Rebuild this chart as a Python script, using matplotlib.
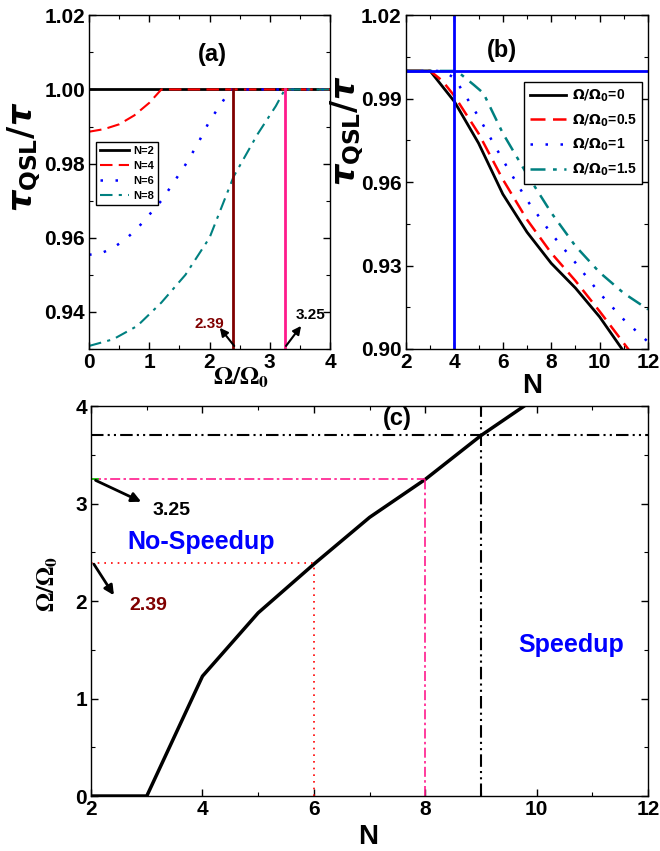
import numpy as np
import matplotlib.pyplot as plt

plt.rcParams['font.family'] = ['Liberation Sans', 'DejaVu Sans']
plt.rcParams['font.weight'] = 'bold'

# (a) tau_QSL/tau vs Omega/Omega0 for several N
n2_x = [0, 4]
n2_y = [1.0, 1.0]
n4_x = [0, 0.25, 0.5, 0.75, 1.0, 1.2, 4]
n4_y = [0.9886, 0.9893, 0.9906, 0.9930, 0.9964, 1.0, 1.0]
n6_x = [0, 0.2, 0.4, 0.6, 0.8, 1.0, 1.2, 1.4, 1.6, 1.8, 2.0, 2.2, 2.35, 4]
n6_y = [0.9554, 0.9558, 0.9573, 0.9595, 0.9625, 0.9662, 0.9700, 0.9748, 0.9797, 0.9852, 0.9915, 0.9963, 1.0, 1.0]
n8_x = [0, 0.4, 0.8, 1.2, 1.6, 2.0, 2.4, 2.8, 3.1, 3.25, 4]
n8_y = [0.9308, 0.9326, 0.9362, 0.9425, 0.9500, 0.9600, 0.9765, 0.9880, 0.9955, 1.0, 1.0]
crit_a = [2.39, 3.25]

# (b) tau_QSL/tau vs N for several Omega/Omega0
N_b = [2, 3, 4, 5, 6, 7, 8, 9, 10, 11, 12]
om0 = [1.0, 1.0, 0.9890, 0.9740, 0.9557, 0.9420, 0.9308, 0.9219, 0.9115, 0.8990, 0.8870]
om05_x = [2, 3, 3.5, 4, 5, 6, 7, 8, 9, 10, 11, 12]
om05 = [1.0, 1.0, 0.9965, 0.9910, 0.9775, 0.9610, 0.9465, 0.9345, 0.9245, 0.9135, 0.9020, 0.8905]
om1_x = [2, 3.5, 4, 5, 6, 7, 8, 9, 10, 11, 12]
om1 = [1.0, 1.0, 0.9975, 0.9835, 0.9680, 0.9535, 0.9415, 0.9310, 0.9200, 0.9105, 0.9025]
om15_x = [2, 4.1, 4.8, 5.2, 6, 7, 8, 9, 10, 11, 12]
om15 = [1.0, 1.0, 0.9950, 0.9920, 0.9776, 0.9628, 0.9490, 0.9370, 0.9275, 0.9200, 0.9142]

# (c) critical Omega/Omega0 vs N
N_c = [2, 3, 4, 5, 6, 7, 8, 9, 10]
om_c = [0, 0, 1.23, 1.88, 2.38, 2.86, 3.25, 3.70, 4.09]

fig = plt.figure(figsize=(6.6, 8.51), dpi=100)
axa = fig.add_axes([0.135, 0.590, 0.365, 0.392])
axb = fig.add_axes([0.615, 0.590, 0.367, 0.392])
axc = fig.add_axes([0.138, 0.0646, 0.844, 0.458])

teal = '#008080'
pink = '#FF1A8C'
dred = '#800000'
arrow = dict(arrowstyle='-|>', color='black', lw=1.5, mutation_scale=12, shrinkA=0, shrinkB=0)
arrow_c = dict(arrowstyle='-|>', color='black', lw=2, mutation_scale=14, shrinkA=0, shrinkB=0)

# ---- panel (a)
axa.plot(n2_x, n2_y, color='black', lw=2, label='N=2')
axa.plot(n4_x, n4_y, color='red', lw=1.5, ls=(0, (6, 3)), label='N=4')
axa.plot(n6_x, n6_y, color='blue', lw=1.8, ls=(0, (1, 5)), label='N=6')
axa.plot(n8_x, n8_y, color=teal, lw=1.5, ls=(0, (6, 3, 1.5, 3)), label='N=8')
axa.plot([crit_a[0], crit_a[0]], [0.90, 1.0], color=dred, lw=2)
axa.plot([crit_a[1], crit_a[1]], [0.90, 1.0], color=pink, lw=2)
axa.set_xlim(0, 4)
axa.set_ylim(0.9307, 1.02)
axa.set_xticks([0, 1, 2, 3, 4])
axa.set_xticks(np.arange(0, 4.01, 0.5), minor=True)
axa.set_yticks([0.94, 0.96, 0.98, 1.00, 1.02])
axa.set_yticks(np.arange(0.93, 1.021, 0.01), minor=True)
axa.set_yticklabels(['0.94', '0.96', '0.98', '1.00', '1.02'])
axa.annotate('', xy=(2.17, 0.9357), xytext=(crit_a[0] + 0.02, 0.9308), arrowprops=arrow)
axa.text(2.0, 0.9368, '2.39', color=dred, fontsize=11, ha='center', va='center')
axa.annotate('', xy=(3.52, 0.9362), xytext=(crit_a[1] + 0.02, 0.9308), arrowprops=arrow)
axa.text(3.67, 0.9392, '3.25', color='black', fontsize=11, ha='center', va='center')
axa.text(2.04, 1.0093, '(a)', fontsize=17, ha='center', va='center')
axa.legend(loc='upper left', bbox_to_anchor=(0.03, 0.62), fontsize=8, handlelength=2.6,
           fancybox=False, edgecolor='black', framealpha=1, borderpad=0.35,
           labelspacing=0.45, handletextpad=0.4, borderaxespad=0)
axa.text(-0.27, 0.575, r'$\tau_{\mathbf{QSL}}/\tau$', transform=axa.transAxes,
         rotation=90, fontsize=24, ha='center', va='center')
axa.text(0.63, -0.085, r'$\Omega/\Omega_0$', transform=axa.transAxes,
         fontsize=18, ha='center', va='center', math_fontfamily='stix')

# ---- panel (b)
axb.plot(N_b, om0, color='black', lw=2, label=r'$\Omega/\Omega_0$=0')
axb.plot(om05_x, om05, color='red', lw=1.8, ls=(0, (6, 3)), label=r'$\Omega/\Omega_0$=0.5')
axb.plot(om1_x, om1, color='blue', lw=1.8, ls=(0, (1, 5)), label=r'$\Omega/\Omega_0$=1')
axb.plot(om15_x, om15, color=teal, lw=1.8, ls=(0, (6, 3, 1.5, 3)), label=r'$\Omega/\Omega_0$=1.5')
axb.axhline(1.0, color='blue', lw=2)
axb.axvline(4, color='blue', lw=2)
axb.set_xlim(2, 12)
axb.set_ylim(0.90, 1.02)
axb.set_xticks([2, 4, 6, 8, 10, 12])
axb.set_xticks(np.arange(2, 12.1, 1), minor=True)
axb.set_yticks([0.90, 0.93, 0.96, 0.99, 1.02])
axb.set_yticks(np.arange(0.90, 1.021, 0.015), minor=True)
axb.set_yticklabels(['0.90', '0.93', '0.96', '0.99', '1.02'])
axb.text(5.95, 1.0075, '(b)', fontsize=17, ha='center', va='center')
axb.legend(loc='upper right', bbox_to_anchor=(0.975, 0.8), fontsize=10, handlelength=2.6,
           fancybox=False, edgecolor='black', framealpha=1, borderpad=0.4,
           labelspacing=0.6, handletextpad=0.4, borderaxespad=0)
axb.text(-0.24, 0.655, r'$\tau_{\mathbf{QSL}}/\tau$', transform=axb.transAxes,
         rotation=90, fontsize=24, ha='center', va='center')
axb.text(0.52, -0.11, 'N', transform=axb.transAxes, fontsize=20, ha='center', va='center')

# ---- panel (c)
axc.plot(N_c, om_c, color='black', lw=2.5)
axc.axhline(3.7, color='black', lw=1.5, ls=(0, (6, 2, 1, 2, 1, 2)))
axc.axvline(9, color='black', lw=1.5, ls=(0, (6, 2, 1, 2, 1, 2)))
axc.plot([2, 8], [3.25, 3.25], color=pink, lw=1.2, ls=(0, (6, 2, 1.5, 2)))
axc.plot([8, 8], [0, 3.25], color=pink, lw=1.2, ls=(0, (6, 2, 1.5, 2)))
axc.plot([2, 6], [2.39, 2.39], color='red', lw=1.2, ls=(0, (1, 3)))
axc.plot([6, 6], [0, 2.39], color='red', lw=1.2, ls=(0, (1, 3)))
axc.plot([2, 2.12], [3.25, 3.25], color='#00DD00', lw=1.2)
axc.annotate('', xy=(2.9, 3.02), xytext=(2.08, 3.24), arrowprops=arrow_c)
axc.annotate('', xy=(2.41, 2.06), xytext=(2.05, 2.38), arrowprops=arrow_c)
axc.text(3.45, 2.93, '3.25', color='black', fontsize=14, ha='center', va='center')
axc.text(3.03, 1.96, '2.39', color=dred, fontsize=14, ha='center', va='center')
axc.text(3.97, 2.61, 'No-Speedup', color='blue', fontsize=18, ha='center', va='center')
axc.text(10.62, 1.545, 'Speedup', color='blue', fontsize=18, ha='center', va='center')
axc.text(7.5, 3.87, '(c)', fontsize=17, ha='center', va='center')
axc.set_xlim(2, 12)
axc.set_ylim(0, 4)
axc.set_xticks([2, 4, 6, 8, 10, 12])
axc.set_xticks(np.arange(2, 12.1, 1), minor=True)
axc.set_yticks([0, 1, 2, 3, 4])
axc.set_yticks(np.arange(0, 4.01, 0.5), minor=True)
axc.text(0.497, -0.105, 'N', transform=axc.transAxes, fontsize=20, ha='center', va='center')
axc.text(-0.077, 0.544, r'$\Omega/\Omega_0$', transform=axc.transAxes, rotation=90,
         fontsize=18, ha='center', va='center', math_fontfamily='stix')

for ax in (axa, axb, axc):
    ax.tick_params(which='both', direction='in', top=True, right=True, labelsize=15, pad=3)
    ax.tick_params(which='major', length=5, width=1)
    ax.tick_params(which='minor', length=3, width=0.8)
    for lab in ax.get_xticklabels() + ax.get_yticklabels():
        lab.set_fontweight('bold')
    for s in ax.spines.values():
        s.set_linewidth(1)

fig.savefig('out.png', dpi=100)
